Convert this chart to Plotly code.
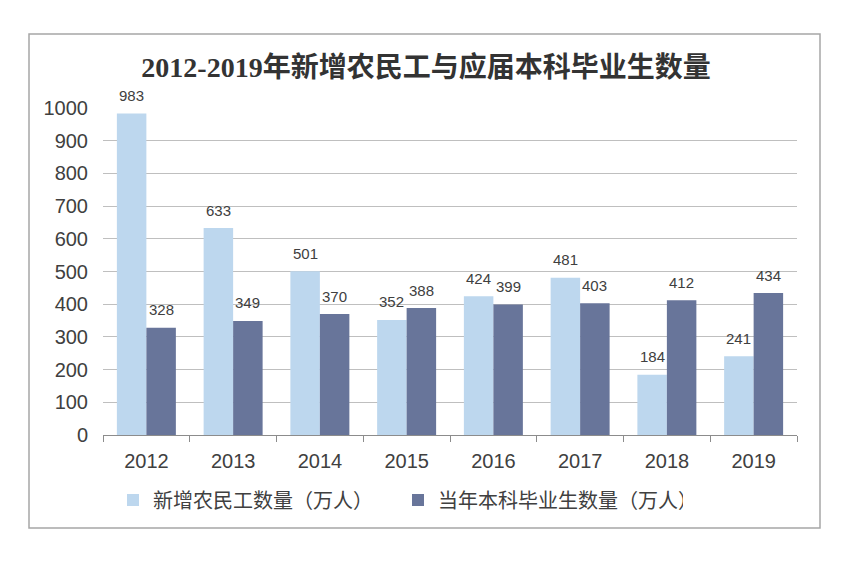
import plotly.graph_objects as go

years = ["2012", "2013", "2014", "2015", "2016", "2017", "2018", "2019"]
migrant_workers = [983, 633, 501, 352, 424, 481, 184, 241]
graduates = [328, 349, 370, 388, 399, 403, 412, 434]
y_ticks = [0, 100, 200, 300, 400, 500, 600, 700, 800, 900, 1000]

OFF = 8  # page body margin
W, H = 860 - OFF, 563 - OFF
L, R, T, B = 103 - OFF, 797 - OFF, 108 - OFF, 435 - OFF
pw, ph = R - L, B - T
BARGAP = 0.32
half_bar = pw / len(years) * (1 - BARGAP) / 4

def px(x):
    return (x - OFF - L) / pw

def py(y):
    return (B - (y - OFF)) / ph

sans = "Liberation Sans, Noto Sans CJK SC, sans-serif"

fig = go.Figure()
fig.add_trace(go.Bar(
    x=years, y=migrant_workers, name="新增农民工数量（万人）",
    marker=dict(color="#BDD7EE", line=dict(width=0)),
))
fig.add_trace(go.Bar(
    x=years, y=graduates, name="当年本科毕业生数量（万人）",
    marker=dict(color="#68759A", line=dict(width=0)),
))

annotations = []
for series, sign in ((migrant_workers, -1), (graduates, 1)):
    for i, v in enumerate(series):
        annotations.append(dict(
            x=i, y=v, xref="x", yref="y", text=str(v), showarrow=False,
            xshift=sign * half_bar, yshift=18, yanchor="middle",
            font=dict(size=15, color="#404040", family=sans),
        ))

fig.update_layout(
    width=W, height=H,
    margin=dict(l=L, r=W - R, t=T, b=H - B, pad=0),
    paper_bgcolor="white", plot_bgcolor="white",
    barmode="group", bargap=BARGAP, bargroupgap=0,
    title=dict(
        text="<b>2012-2019年新增农民工与应届本科毕业生数量</b>",
        x=(426 - OFF) / W, xanchor="center", y=1 - (67 - OFF) / H, yanchor="middle",
        font=dict(size=28, color="#333333",
                  family="Liberation Serif, Noto Sans CJK SC, serif"),
    ),
    xaxis=dict(
        type="category", tickson="boundaries", ticks="outside", ticklen=6,
        tickcolor="#8c8c8c", showline=True, linecolor="#8c8c8c", linewidth=1,
        tickfont=dict(size=20, color="#404040", family=sans),
        showgrid=False, ticklabelstandoff=8,
        range=[-0.5, len(years) - 0.5],
    ),
    yaxis=dict(
        range=[0, 1000], tickvals=y_ticks, showgrid=True,
        gridcolor="#bfbfbf", gridwidth=1, zeroline=False, showline=False,
        tickfont=dict(size=20, color="#404040", family=sans),
        ticks="", ticklabelstandoff=14,
    ),
    legend=dict(
        orientation="h", x=px(113), xanchor="left", y=py(500), yanchor="middle",
        font=dict(size=20, color="#404040", family=sans),
        itemwidth=30, tracegroupgap=0, entrywidthmode="pixels", entrywidth=240,
    ),
    annotations=annotations,
    showlegend=True,
)

fig.add_shape(
    type="rect", xref="paper", yref="paper",
    x0=px(29), x1=px(820), y0=py(528), y1=py(34),
    line=dict(color="#a6a6a6", width=1.5), fillcolor="rgba(0,0,0,0)",
    layer="below",
)

fig.write_html("out.html")
